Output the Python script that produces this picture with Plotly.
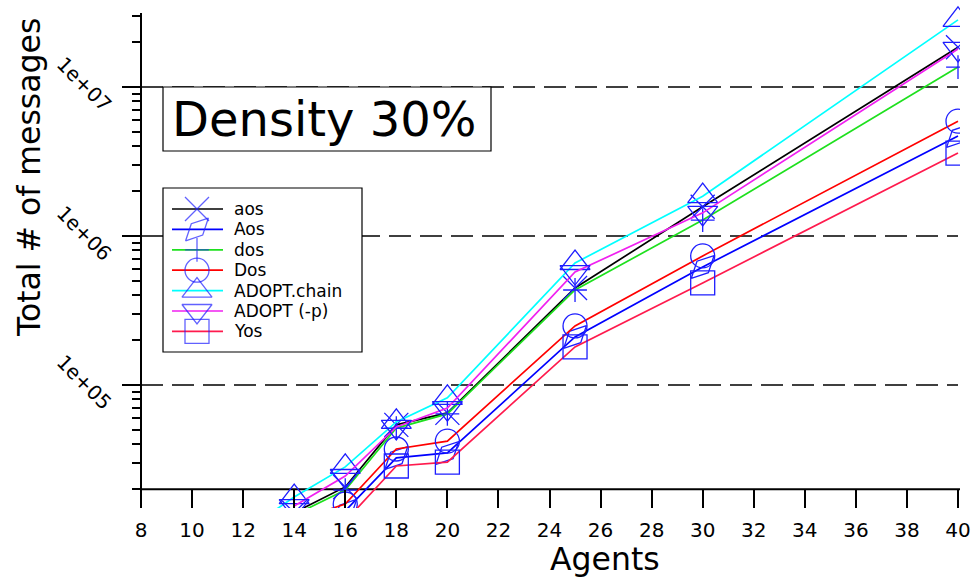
import plotly.graph_objects as go

# ---- data -------------------------------------------------------------
agents = [12, 14, 16, 18, 20, 25, 30, 40]

aos         = [None, 1.39e4, 2.07e4, 5.40e4, 6.50e4, 4.48e5, 1.57e6, 1.85e7]
Aos         = [None, None,   1.43e4, 3.24e4, 3.50e4, 2.10e5, 6.20e5, 4.69e6]
dos         = [None, 1.34e4, 1.97e4, 5.14e4, 6.40e4, 4.34e5, 1.28e6, 1.36e7]
Dos         = [None, 1.22e4, 1.59e4, 3.72e4, 4.20e4, 2.49e5, 7.35e5, 5.90e6]
adopt_chain = [1.03e4, 1.77e4, 2.82e4, 5.65e4, 8.20e4, 6.59e5, 1.85e6, 2.82e7]
adopt_p     = [None, 1.54e4, 2.45e4, 5.23e4, 7.00e4, 5.73e5, 1.43e6, 1.80e7]
yos         = [None, None,   1.22e4, 2.86e4, 3.04e4, 1.80e5, 4.84e5, 3.60e6]

series_names = ["aos", "Aos", "dos", "Dos", "ADOPT.chain", "ADOPT (-p)", "Yos"]
series_values = [aos, Aos, dos, Dos, adopt_chain, adopt_p, yos]

x_ticks = list(range(8, 41, 2))
y_major = [1e5, 1e6, 1e7]
y_major_text = ["1e+05", "1e+06", "1e+07"]
y_minor = [m * 10 ** e for e in (4, 5, 6) for m in range(2, 10)] + [2e7, 3e7]

# ---- styles -----------------------------------------------------------
FONT = "DejaVu Sans"
MARK = "rgb(30,30,255)"
line_colors = ["#000000", "#0000ff", "#1ee01e", "#ff0000", "#00ffff", "#f020f0", "#ff1a4d"]
symbols = ["x-thin-open", "diamond-tall-open", "cross-thin-open", "circle-open",
           "triangle-up-open", "triangle-down-open", "square-open"]
sizes = [24, 23, 17, 24, 26, 26, 24]
angles = [0, 45, 0, 0, 0, 0, 0]

W, H = 974, 579
L, R, T, B = 141, 960, 0, 508          # plot area in pixels
X0 = 8
PX_PER_UNIT = 817 / 32                  # x = 8 at 141 px, x = 40 at 958 px
X1 = X0 + (R - L) / PX_PER_UNIT
PX_PER_DECADE = 149
Y_LOG_1E6 = 236                          # pixel row of 1e6
y_lo = 6 - (B - Y_LOG_1E6) / PX_PER_DECADE
y_hi = 6 + (Y_LOG_1E6 - T) / PX_PER_DECADE


def px(xp):
    return (xp - L) / (R - L)


def py(yp):
    return (B - yp) / (B - T)


def xdata_to_paper(v):
    return (v - X0) / (X1 - X0)


fig = go.Figure()

for name, vals, col, sym, sz, ang in zip(series_names, series_values, line_colors,
                                         symbols, sizes, angles):
    fig.add_trace(go.Scatter(
        x=agents, y=vals, name=name, mode="lines+markers", showlegend=False,
        line=dict(color=col, width=1.7),
        marker=dict(symbol=sym, size=sz, angle=ang, color=MARK,
                    line=dict(color=MARK, width=1.3)),
    ))

# ---- hand-drawn key (pixel coordinates on an overlay axis pair) -------
key_x_line0, key_x_line1, key_x_mark, key_x_text = 172, 223, 197, 232
key_row0, key_row_step = 209, 20.4
key_rows = [key_row0 + i * key_row_step for i in range(len(series_names))]

fig.add_trace(go.Scatter(
    x=[key_x_mark] * len(series_names), y=key_rows, mode="markers",
    xaxis="x2", yaxis="y2", showlegend=False, hoverinfo="skip",
    marker=dict(symbol=symbols, size=sizes, angle=angles, color=MARK,
                line=dict(color=MARK, width=1.3)),
))

shapes = []
# dashed decade grid lines, from x=8 to x=40
for v in y_major:
    shapes.append(dict(type="line", layer="below", xref="paper", yref="y",
                       x0=0, x1=xdata_to_paper(40), y0=v, y1=v,
                       line=dict(color="black", width=1.6, dash="22px,9px")))
# x axis line at the bottom decade boundary
shapes.append(dict(type="line", layer="below", xref="paper", yref="y",
                   x0=0, x1=1, y0=2e4, y1=2e4, line=dict(color="black", width=2)))
# y axis line
shapes.append(dict(type="line", layer="below", xref="paper", yref="paper",
                   x0=0, x1=0, y0=0, y1=py(13), line=dict(color="black", width=2)))
# title box
shapes.append(dict(type="rect", layer="below", xref="paper", yref="paper",
                   x0=px(163), x1=px(491), y0=py(151), y1=py(87),
                   fillcolor="white", line=dict(color="black", width=1.2)))
# key box
shapes.append(dict(type="rect", layer="below", xref="paper", yref="paper",
                   x0=px(163), x1=px(362), y0=py(352), y1=py(188),
                   fillcolor="white", line=dict(color="black", width=1.2)))
for yr, col in zip(key_rows, line_colors):
    shapes.append(dict(type="line", layer="below", xref="paper", yref="paper",
                       x0=px(key_x_line0), x1=px(key_x_line1), y0=py(yr), y1=py(yr),
                       line=dict(color=col, width=1.7)))

annotations = []
for yr, name in zip(key_rows, series_names):
    annotations.append(dict(xref="paper", yref="paper", x=px(key_x_text), y=py(yr),
                            text=name, showarrow=False, xanchor="left", yanchor="middle",
                            font=dict(family=FONT, size=17, color="black")))
annotations.append(dict(xref="paper", yref="paper", x=px(324), y=py(119),
                        text="Density 30%", showarrow=False,
                        xanchor="center", yanchor="middle",
                        font=dict(family=FONT, size=48, color="black")))
annotations.append(dict(xref="paper", yref="paper", x=px(29), y=py(178),
                        text="Total # of messages", showarrow=False, textangle=-90,
                        xanchor="center", yanchor="middle",
                        font=dict(family=FONT, size=31.5, color="black")))
annotations.append(dict(xref="paper", yref="paper", x=px(605), y=py(559),
                        text="Agents", showarrow=False,
                        xanchor="center", yanchor="middle",
                        font=dict(family=FONT, size=31.5, color="black")))

fig.update_layout(
    width=W, height=H,
    margin=dict(l=L, r=W - R, t=T, b=H - B, pad=0),
    paper_bgcolor="white", plot_bgcolor="white",
    font=dict(family=FONT, color="black"),
    xaxis=dict(range=[X0, X1], tickvals=x_ticks, ticks="inside", ticklen=18,
               tickwidth=1.5, tickcolor="black", showline=False, showgrid=False,
               zeroline=False, ticklabelstandoff=8,
               tickfont=dict(family=FONT, size=20, color="black")),
    yaxis=dict(type="log", range=[y_lo, y_hi], tickmode="array", tickvals=y_major,
               ticktext=y_major_text, ticks="outside", ticklen=18, tickwidth=1.5,
               tickcolor="black", tickangle=45, showline=False, showgrid=False,
               zeroline=False, ticklabelshift=22, ticklabelstandoff=8,
               tickfont=dict(family=FONT, size=20, color="black"),
               minor=dict(tickmode="array", tickvals=y_minor, ticks="outside",
                          ticklen=8, tickwidth=1.5, tickcolor="black", showgrid=False)),
    xaxis2=dict(overlaying="x", range=[L, R], visible=False, anchor="y2"),
    yaxis2=dict(overlaying="y", range=[B, T], visible=False, anchor="x2"),
    shapes=shapes, annotations=annotations,
)

fig.write_html("out.html")
